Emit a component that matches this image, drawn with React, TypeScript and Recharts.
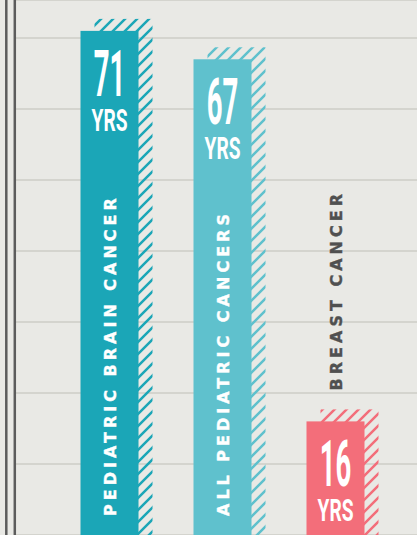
import { BarChart, Bar, XAxis, YAxis, CartesianGrid } from "recharts";

const categories = ["PEDIATRIC BRAIN CANCER", "ALL PEDIATRIC CANCERS", "BREAST CANCER"];
const years = [71, 67, 16];
const gridTicks = [0, 10, 20, 30, 40, 50, 60, 70];

const BAR_COLORS = ["#1ba6b7", "#5fc1cd", "#f36e7a"];
const BG = "#e9e9e5";
const LABEL_FONT = "'DejaVu Sans', sans-serif";
const NUM_FONT = "Roboto, sans-serif";

const data = categories.map((name, i) => ({ name, years: years[i] }));

function HatchedBar(props: any) {
  const { x, y, width, height, index, payload } = props;
  const color = BAR_COLORS[index];
  const id = `hatch-${index}`;
  const cx = x + width / 2;
  const inside = height > 360;
  const base = y + height;
  const labelColor = inside ? "#fff" : "#505050";

  return (
    <g>
      <defs>
        <pattern id={id} width={12} height={12} patternUnits="userSpaceOnUse">
          <path
            d="M-3,3 L3,-3 M0,12 L12,0 M9,15 L15,9"
            stroke={color}
            strokeWidth={2.5}
          />
        </pattern>
      </defs>
      {/* offset shadow */}
      <rect x={x + 14} y={y - 12} width={width} height={height + 12} fill={`url(#${id})`} />
      <rect x={x} y={y} width={width} height={height} fill={color} />

      {/* value */}
      <g transform={`translate(${cx},${y + 65}) scale(0.43,1)`}>
        <text textAnchor="middle" fontFamily={NUM_FONT} fontWeight={700} fontSize={64} fill="#fff">
          {payload.years}
        </text>
      </g>
      <g transform={`translate(${cx},${y + 100}) scale(0.6,1)`}>
        <text textAnchor="middle" fontFamily={NUM_FONT} fontWeight={700} fontSize={32} fill="#fff">
          YRS
        </text>
      </g>

      {/* category label */}
      <text
        transform={`translate(${cx + 6},${inside ? base - 19 : y - 31}) rotate(-90)`}
        fontFamily={LABEL_FONT}
        fontWeight={700}
        fontSize={16}
        letterSpacing={4}
        fill={labelColor}
        stroke={labelColor}
        strokeWidth={0.4}
      >
        {payload.name}
      </text>
    </g>
  );
}

export default function App() {
  return (
    <div style={{ position: "absolute", top: 0, left: 0, width: 417, height: 535, background: BG, overflow: "hidden" }}>
      <BarChart width={417} height={535} data={data} margin={{ top: 0, right: 0, bottom: 0, left: 0 }}>
        <CartesianGrid vertical={false} yAxisId="v" stroke="#d4d4ce" strokeWidth={2} />
        <XAxis dataKey="name" hide padding={{ left: 37.7, right: 25.5 }} />
        <YAxis yAxisId="v" hide type="number" domain={[0, 75.35]} ticks={gridTicks} allowDataOverflow />
        <YAxis
          yAxisId="d1"
          width={8.5}
          type="number"
          domain={[0, 1]}
          tick={false}
          tickLine={false}
          axisLine={{ stroke: "#5c5c5c", strokeWidth: 2.5 }}
        />
        <YAxis
          yAxisId="d2"
          width={6.3}
          type="number"
          domain={[0, 1]}
          tick={false}
          tickLine={false}
          axisLine={{ stroke: "#5c5c5c", strokeWidth: 2.5 }}
        />
        <Bar yAxisId="v" dataKey="years" barSize={58} shape={HatchedBar} isAnimationActive={false} />
      </BarChart>
    </div>
  );
}
